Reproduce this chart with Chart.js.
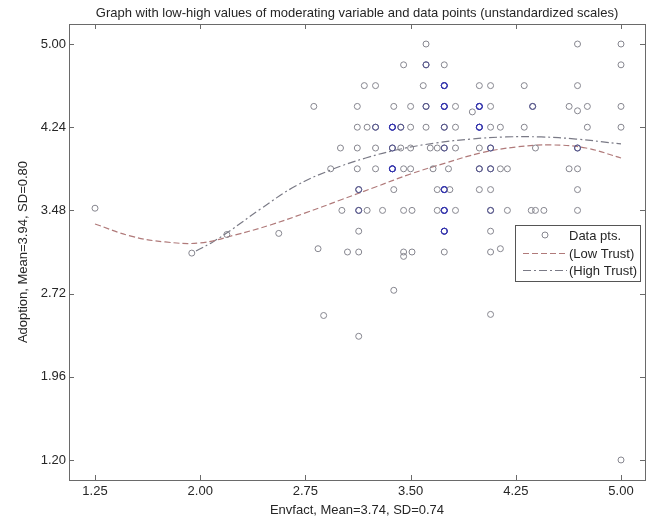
<!DOCTYPE html>
<html>
<head>
<meta charset="utf-8">
<title>Adoption vs Envfact</title>
<script src="https://cdn.jsdelivr.net/npm/chart.js@4.4.1/dist/chart.umd.min.js"></script>
<style>
  html, body { margin: 0; padding: 0; background: #fff; }
</style>
</head>
<body>
<canvas id="plot" width="656" height="522"></canvas>
<script>
// Adoption levels (one row of circles per level) and the Envfact values on each row
const rowAdoption = [5.00, 4.81, 4.62, 4.43, 4.24, 4.05, 3.86, 3.67, 3.48, 3.29, 3.10];
const rowEnvfact = [
    [3.61, 4.69, 5.00],
    [3.45, 3.61, 3.61, 3.74, 5.00],
    [3.17, 3.25, 3.59, 3.74, 3.74, 3.74, 3.99, 4.07, 4.31, 4.69],
    [2.81, 3.12, 3.38, 3.50, 3.61, 3.61, 3.74, 3.74, 3.74, 3.82, 3.99, 3.99, 3.99, 4.07, 4.37, 4.37, 4.63, 4.76, 5.00],
    [3.12, 3.19, 3.25, 3.25, 3.37, 3.37, 3.37, 3.43, 3.43, 3.50, 3.61, 3.74, 3.74, 3.82, 3.99, 3.99, 3.99, 4.07, 4.14, 4.31, 4.76, 5.00],
    [3.00, 3.12, 3.25, 3.37, 3.37, 3.43, 3.50, 3.64, 3.69, 3.74, 3.74, 3.82, 3.99, 4.07, 4.07, 4.39, 4.69, 4.69],
    [2.93, 3.12, 3.25, 3.37, 3.37, 3.37, 3.45, 3.50, 3.66, 3.77, 3.99, 3.99, 4.07, 4.07, 4.14, 4.19, 4.63, 4.69],
    [3.13, 3.13, 3.38, 3.69, 3.74, 3.74, 3.74, 3.78, 3.99, 4.07, 4.69],
    [3.01, 3.13, 3.13, 3.19, 3.30, 3.45, 3.51, 3.69, 3.74, 3.74, 3.74, 3.82, 4.07, 4.07, 4.19, 4.36, 4.39, 4.45, 4.69],
    [3.13, 3.74, 3.74, 3.74, 4.07],
    [3.05, 3.13, 3.45, 3.51, 3.74, 4.07]
];
// points off the regular rows
const looseEnvfact  = [1.25, 1.94, 2.19, 2.56, 2.84, 3.45, 4.14, 3.94, 4.69, 3.38, 2.88, 4.07, 3.13, 5.00];
const looseAdoption = [3.50, 3.09, 3.26, 3.27, 3.13, 3.06, 3.13, 4.38, 4.39, 2.75, 2.52, 2.53, 2.33, 1.20];

// fitted curves for the moderator at low and high values
const lowTrustX  = [1.25, 1.50, 1.75, 2.00, 2.25, 2.50, 2.75, 3.00, 3.25, 3.50, 3.75, 4.00, 4.25, 4.50, 4.75, 5.00];
const lowTrustY  = [3.356, 3.247, 3.192, 3.183, 3.256, 3.347, 3.457, 3.575, 3.694, 3.813, 3.913, 4.005, 4.059, 4.078, 4.050, 3.959];
const highTrustX = [1.97, 2.09, 2.21, 2.43, 2.68, 2.93, 3.18, 3.43, 3.68, 3.93, 4.18, 4.43, 4.68, 5.00];
const highTrustY = [3.110, 3.192, 3.292, 3.493, 3.703, 3.849, 3.959, 4.041, 4.096, 4.132, 4.151, 4.151, 4.132, 4.087];

const xTicks = [1.25, 2.00, 2.75, 3.50, 4.25, 5.00];
const yTicks = [1.20, 1.96, 2.72, 3.48, 4.24, 5.00];

const FONT = { family: "'Liberation Sans', Arial, sans-serif", size: 13 };
const TEXT = '#262626';
const AXIS = '#6a6a6a';

// flatten rows into {x, y} points
const dataPts = [];
rowEnvfact.forEach((xs, i) => xs.forEach(x => dataPts.push({ x: x, y: rowAdoption[i] })));
looseEnvfact.forEach((x, i) => dataPts.push({ x: x, y: looseAdoption[i] }));

// overplotted circles come out darker / bluer
const hits = {};
dataPts.forEach(p => { const k = p.x + '|' + p.y; hits[k] = (hits[k] || 0) + 1; });
const ptColors = dataPts.map(p => {
    const n = hits[p.x + '|' + p.y];
    return n >= 3 ? '#3434ac' : (n === 2 ? '#5a5a8c' : '#86868f');
});

const pairUp = (xs, ys) => xs.map((x, i) => ({ x: x, y: ys[i] }));

// box around the plot with MATLAB style inward ticks
const frameTicks = {
    id: 'frameTicks',
    afterDraw(chart) {
        const { ctx, chartArea: a } = chart;
        const xs = chart.scales.x, ys = chart.scales.y;
        const len = 5;
        ctx.save();
        ctx.strokeStyle = AXIS;
        ctx.lineWidth = 1;
        ctx.strokeRect(Math.round(a.left) + 0.5, Math.round(a.top) + 0.5,
            Math.round(a.right - a.left), Math.round(a.bottom - a.top));
        ctx.beginPath();
        xs.ticks.forEach(t => {
            const px = Math.round(xs.getPixelForValue(t.value)) + 0.5;
            ctx.moveTo(px, a.bottom); ctx.lineTo(px, a.bottom - len);
            ctx.moveTo(px, a.top); ctx.lineTo(px, a.top + len);
        });
        ys.ticks.forEach(t => {
            const py = Math.round(ys.getPixelForValue(t.value)) + 0.5;
            ctx.moveTo(a.left, py); ctx.lineTo(a.left + len, py);
            ctx.moveTo(a.right, py); ctx.lineTo(a.right - len, py);
        });
        ctx.stroke();
        ctx.restore();
    }
};

// legend box sitting inside the plot, right side
const insetLegend = {
    id: 'insetLegend',
    afterDraw(chart) {
        const ctx = chart.ctx;
        const box = { left: 515.5, top: 225.5, w: 125, h: 56 };
        const rowsY = [235, 253, 270];
        ctx.save();
        ctx.fillStyle = '#fff';
        ctx.fillRect(box.left, box.top, box.w, box.h);
        ctx.strokeStyle = '#555';
        ctx.lineWidth = 1;
        ctx.strokeRect(box.left, box.top, box.w, box.h);
        ctx.font = FONT.size + 'px ' + FONT.family;
        ctx.textBaseline = 'middle';
        ctx.textAlign = 'left';
        chart.data.datasets.forEach((ds, i) => {
            const y = rowsY[i];
            ctx.strokeStyle = ds.legendColor;
            ctx.lineWidth = 1;
            if (ds.showLine) {
                ctx.setLineDash(ds.borderDash || []);
                ctx.beginPath();
                ctx.moveTo(523, y + 0.5);
                ctx.lineTo(567, y + 0.5);
                ctx.stroke();
                ctx.setLineDash([]);
            } else {
                ctx.beginPath();
                ctx.arc(545, y, 3, 0, Math.PI * 2);
                ctx.stroke();
            }
            ctx.fillStyle = TEXT;
            ctx.fillText(ds.label, 569, y + 1);
        });
        ctx.restore();
    }
};

new Chart(document.getElementById('plot'), {
    type: 'scatter',
    data: {
        datasets: [{
            label: 'Data pts.',
            data: dataPts,
            showLine: false,
            pointRadius: 3,
            pointHoverRadius: 3,
            pointBorderWidth: 1,
            pointBorderColor: ptColors,
            pointBackgroundColor: 'rgba(0,0,0,0)',
            legendColor: '#86868f'
        }, {
            label: '(Low Trust)',
            data: pairUp(lowTrustX, lowTrustY),
            showLine: true,
            borderColor: '#b07a7a',
            borderWidth: 1.2,
            borderDash: [6, 3],
            pointRadius: 0,
            tension: 0.4,
            fill: false,
            legendColor: '#b07a7a'
        }, {
            label: '(High Trust)',
            data: pairUp(highTrustX, highTrustY),
            showLine: true,
            borderColor: '#7a7a86',
            borderWidth: 1.2,
            borderDash: [8, 3, 2, 3],
            pointRadius: 0,
            tension: 0.4,
            fill: false,
            legendColor: '#7a7a86'
        }]
    },
    options: {
        responsive: false,
        animation: false,
        devicePixelRatio: 1,
        layout: { padding: { left: 0, right: 11, top: 0, bottom: 0 } },
        scales: {
            x: {
                type: 'linear',
                min: 1.0646,
                max: 5.171,
                grid: { display: false, drawTicks: false },
                border: { display: false },
                afterBuildTicks: s => { s.ticks = xTicks.map(v => ({ value: v })); },
                afterFit: s => { s.height = 42; },
                ticks: {
                    font: FONT, color: TEXT, padding: 4,
                    maxRotation: 0, autoSkip: false,
                    callback: v => Number(v).toFixed(2)
                },
                title: {
                    display: true,
                    text: 'Envfact, Mean=3.74, SD=0.74',
                    font: FONT, color: TEXT,
                    padding: { top: 0, bottom: 4 }
                }
            },
            y: {
                type: 'linear',
                min: 1.017,
                max: 5.183,
                grid: { display: false, drawTicks: false },
                border: { display: false },
                afterBuildTicks: s => { s.ticks = yTicks.map(v => ({ value: v })); },
                afterFit: s => { s.width = 69; },
                ticks: {
                    font: FONT, color: TEXT, padding: 3,
                    autoSkip: false,
                    callback: v => Number(v).toFixed(2)
                },
                title: {
                    display: true,
                    text: 'Adoption, Mean=3.94, SD=0.80',
                    font: FONT, color: TEXT,
                    padding: { top: 16, bottom: 0 }
                }
            }
        },
        plugins: {
            legend: { display: false },
            tooltip: { enabled: false },
            title: {
                display: true,
                fullSize: false,
                text: 'Graph with low-high values of moderating variable and data points (unstandardized scales)',
                font: { family: FONT.family, size: 13, weight: 'normal' },
                color: TEXT,
                padding: { top: 6, bottom: 2.4 }
            }
        }
    },
    plugins: [frameTicks, insetLegend]
});
</script>
</body>
</html>
